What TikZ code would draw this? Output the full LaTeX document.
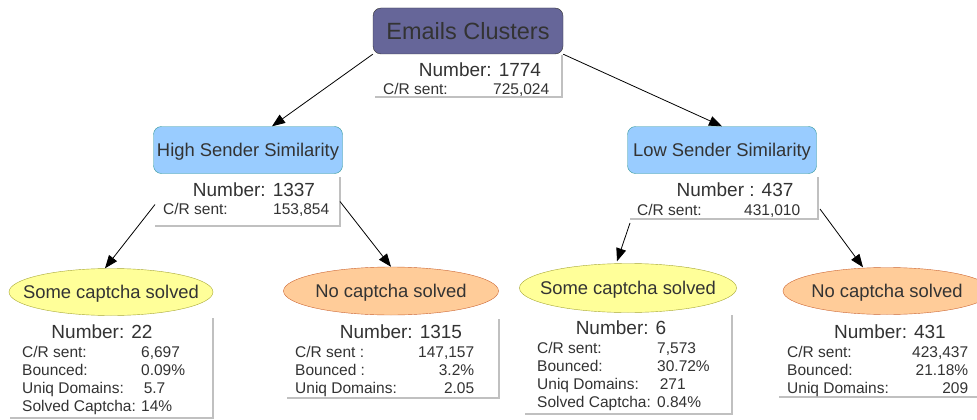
\documentclass[tikz,border=0pt]{standalone}
\usepackage{fontspec}
\setmainfont{Liberation Sans}
\usepackage{array}
\usetikzlibrary{shapes.geometric, arrows.meta}

\definecolor{clusterfill}{HTML}{666699}
\definecolor{simfill}{HTML}{99CCFF}
\definecolor{simdraw}{HTML}{339999}
\definecolor{somefill}{HTML}{FFFF99}
\definecolor{somedraw}{HTML}{A6A633}
\definecolor{nonefill}{HTML}{FFCC99}
\definecolor{nonedraw}{HTML}{CC6633}
\definecolor{txt}{HTML}{333333}
\definecolor{shade}{HTML}{C0C0C0}

\newcolumntype{L}[1]{>{\raggedright\arraybackslash}p{#1}}
\newcolumntype{R}[1]{>{\raggedleft\arraybackslash}p{#1}}

\tikzset{
    cluster/.style = {draw = black!80, fill = clusterfill, rounded corners = 8pt, minimum width = 190pt, minimum height = 46pt, inner sep = 0pt, text = txt, text depth = 0pt, font = \fontsize{23.5}{28}\selectfont},
    sim/.style = {draw = simdraw, fill = simfill, rounded corners = 8pt, minimum width = 189pt, minimum height = 47pt, inner sep = 0pt, text = txt, text depth = 0pt, font = \fontsize{18.4}{22}\selectfont},
    labeltext/.style = {text = txt, inner sep = 0pt, text depth = 0pt, font = \fontsize{18.4}{22}\selectfont},
    some/.style = {ellipse, draw = somedraw, fill = somefill, inner sep = 0pt, label = {[labeltext]center:#1}},
    none/.style = {ellipse, draw = nonedraw, fill = nonefill, inner sep = 0pt, label = {[labeltext]center:#1}},
    infobox/.style = {inner sep = 0pt, outer sep = 0pt, anchor = north west},
    shadowline/.style = {draw = shade, line width = 2.5pt},
    numtext/.style = {text = txt, inner sep = 0pt, font = \fontsize{19}{22}\selectfont},
    dettext/.style = {text = txt, inner sep = 0pt, anchor = base west, font = \fontsize{15.5}{18}\selectfont},
    link/.style = {-{Triangle[length = 13pt, width = 10pt]}, line width = 0.8pt}
}

\begin{document}
\begin{tikzpicture}[x = 1pt, y = -1pt]
    \useasboundingbox[fill = white] (0, 0) rectangle (977, 420);

    \node[cluster] (root) at (468, 31) {Emails Clusters};
    \node[sim] (high) at (248, 150) {High Sender Similarity};
    \node[sim] (low) at (722, 150) {Low Sender Similarity};
    \node[some = {Some captcha solved}, minimum width = 204pt, minimum height = 47pt] (highsome) at (111, 292) {};
    \node[none = {No captcha solved}, minimum width = 215pt, minimum height = 48pt] (highnone) at (391, 291) {};
    \node[some = {Some captcha solved}, minimum width = 217pt, minimum height = 49pt] (lowsome) at (628, 288) {};
    \node[none = {No captcha solved}, minimum width = 208pt, minimum height = 47pt] (lownone) at (887, 291) {};

    \node[infobox, minimum width = 187pt, minimum height = 42pt] (rootinfo) at (375, 55) {};
    \node[infobox, minimum width = 185pt, minimum height = 49pt] (highinfo) at (155, 177) {};
    \node[infobox, minimum width = 188pt, minimum height = 42pt] (lowinfo) at (630, 177) {};
    \node[infobox, minimum width = 203pt, minimum height = 100pt] (highsomeinfo) at (10, 318) {};
    \node[infobox, minimum width = 212pt, minimum height = 79pt] (highnoneinfo) at (287, 319) {};
    \node[infobox, minimum width = 207pt, minimum height = 99pt] (lowsomeinfo) at (525, 315) {};
    \node[infobox, minimum width = 210pt, minimum height = 79pt] (lownoneinfo) at (779, 318) {};
    \foreach \info in {rootinfo, highinfo, lowinfo, highsomeinfo, highnoneinfo, lowsomeinfo, lownoneinfo}
        \draw[shadowline] (\info.north east) -- (\info.south east) -- (\info.south west);

    \node[numtext] (rootnum) at (480, 70) {Number: 1774};
    \node[dettext] (rootdat) at (383, 94.5) {\begin{tabular}[t]{@{}L{100pt}@{}R{66pt}@{}}C/R sent: & 725,024\end{tabular}};
    \node[numtext] (highnum) at (254, 190) {Number: 1337};
    \node[dettext] (highdat) at (163, 214.5) {\begin{tabular}[t]{@{}L{100pt}@{}R{66pt}@{}}C/R sent: & 153,854\end{tabular}};
    \node[numtext] (lownum) at (735, 190) {Number : 437};
    \node[dettext] (lowdat) at (637, 215.5) {\begin{tabular}[t]{@{}L{100pt}@{}R{63pt}@{}}C/R sent: & 431,010\end{tabular}};
    \node[numtext] (highsomenum) at (102, 332) {Number: 22};
    \node[dettext] (highsomedat) at (22, 357.5) {\begin{tabular}[t]{@{}L{119pt}@{}l@{}}C/R sent: & 6,697\\ Bounced: & 0.09\%\\ Uniq Domains: & \,5.7\\ Solved Captcha: & 14\%\end{tabular}};
    \node[numtext] (highnonenum) at (401, 332) {Number: 1315};
    \node[dettext] (highnonedat) at (295, 357.5) {\begin{tabular}[t]{@{}L{110pt}@{}R{69pt}@{}}C/R sent : & 147,157\\ Bounced : & 3.2\%\\ Uniq Domains: & 2.05\end{tabular}};
    \node[numtext] (lowsomenum) at (621, 328) {Number: 6};
    \node[dettext] (lowsomedat) at (537, 353.5) {\begin{tabular}[t]{@{}L{120pt}@{}l@{}}C/R sent: & 7,573\\ Bounced: & 30.72\%\\ Uniq Domains: & \,271\\ Solved Captcha: & 0.84\%\end{tabular}};
    \node[numtext] (lownonenum) at (890, 332) {Number: 431};
    \node[dettext] (lownonedat) at (787, 357.5) {\begin{tabular}[t]{@{}L{110pt}@{}R{71pt}@{}}C/R sent: & 423,437\\ Bounced: & 21.18\%\\ Uniq Domains: & 209\end{tabular}};

    \draw[link] (root.south west) -- ([xshift = 24pt]high.north);
    \draw[link] (root.south east) -- (low.north);
    \draw[link] ([yshift = -3pt]highinfo.west) -- ([xshift = -6pt]highsome.north);
    \draw[link] (highinfo.east) -- (highnone.north);
    \draw[link] ([yshift = -4pt]lowinfo.south west) -- ([xshift = -11pt, yshift = 2pt]lowsome.north);
    \draw[link] ([yshift = -11pt, xshift = 2pt]lowinfo.east) -- ([xshift = -24pt]lownone.north);
\end{tikzpicture}
\end{document}
